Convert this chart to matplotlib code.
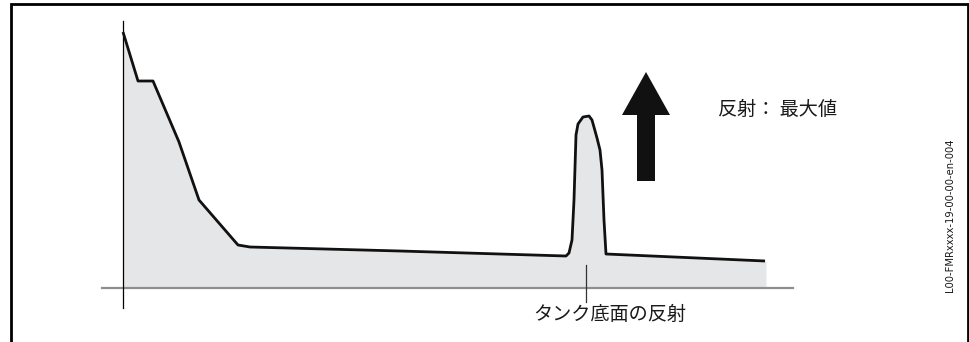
import matplotlib
matplotlib.use("Agg")
import matplotlib.pyplot as plt
from matplotlib.patches import FancyArrow
from matplotlib import font_manager

plt.rcParams['font.family'] = ['Noto Sans CJK JP', 'DejaVu Sans']

# Echo curve: distance vs amplitude (arbitrary units)
distance = [0, 15, 30, 56, 76, 115, 127, 277, 443, 446, 449, 451, 453, 455,
            460, 466, 469, 474, 477, 479, 481, 483, 642]
amplitude = [255.5, 206.5, 206.5, 145.5, 87.5, 42.5, 40.5, 36.5, 31.5, 34.5,
             47.5, 87.5, 152.5, 163.5, 170.5, 171.5, 167.5, 149.5, 137.5,
             117.5, 67.5, 33.5, 26.5]
fill_end = 643

bottom_label = "タンク底面の反射"
bottom_pos = 463
arrow_label = "反射： 最大値"
doc_code = "L00-FMRxxxx-19-00-00-en-004"

W, H = 970, 342
fig = plt.figure(figsize=(W / 100, H / 100), dpi=100)
ax = fig.add_axes([0, 0, 1, 1])
ax.set_xlim(-123, W - 123)
ax.set_ylim(287.5 - H, 287.5)
ax.axis('off')

# outer frame (open at bottom)
fx0, fx1 = 11 - 123, 968 - 123
ftop = 287.5 - 4
ax.plot([fx0, fx0, fx1, fx1], [287.5 - H - 5, ftop, ftop, 287.5 - H - 5],
        color='black', lw=2.0, solid_joinstyle='miter', clip_on=False)

# fill under curve
ax.fill_between(distance + [fill_end], amplitude + [amplitude[-1]], 0,
                color='#e5e6e7', lw=0, zorder=1)

# axes lines
ax.plot([-21, 670], [0, 0], color='#8e8e8e', lw=1.6, zorder=2)
ax.plot([0, 0], [266.5, -20.5], color='black', lw=0.9, zorder=3)

# curve
ax.plot(distance, amplitude, color='#111111', lw=2.0, zorder=4,
        solid_joinstyle='round', solid_capstyle='butt')

# tick and label at tank bottom
ax.plot([bottom_pos, bottom_pos], [22.5, -14.5], color='#333333', lw=0.9, zorder=3)
ax.text(bottom_pos + 24, -27.5, bottom_label, ha='center', va='center',
        fontsize=13.8, color='#1a1a1a')

# arrow
ax.add_patch(FancyArrow(523, 106.5, 0, 109, width=18, head_width=48,
                        head_length=43, length_includes_head=True,
                        color='#111111', lw=0, zorder=5))
ax.text(595, 178, arrow_label, ha='left', va='center', fontsize=13.8,
        color='#1a1a1a')

# document code
names = {f.name for f in font_manager.fontManager.ttflist}
if 'Liberation Sans Narrow' in names:
    code_family, code_size = 'Liberation Sans Narrow', 8.5
else:
    code_family, code_size = 'DejaVu Sans', 7.2
ax.text(950 - 123, 287.5 - 215, doc_code, rotation=90, ha='center', va='center',
        fontsize=code_size, color='#1a1a1a', family=code_family)

fig.savefig('out.png', dpi=100)
